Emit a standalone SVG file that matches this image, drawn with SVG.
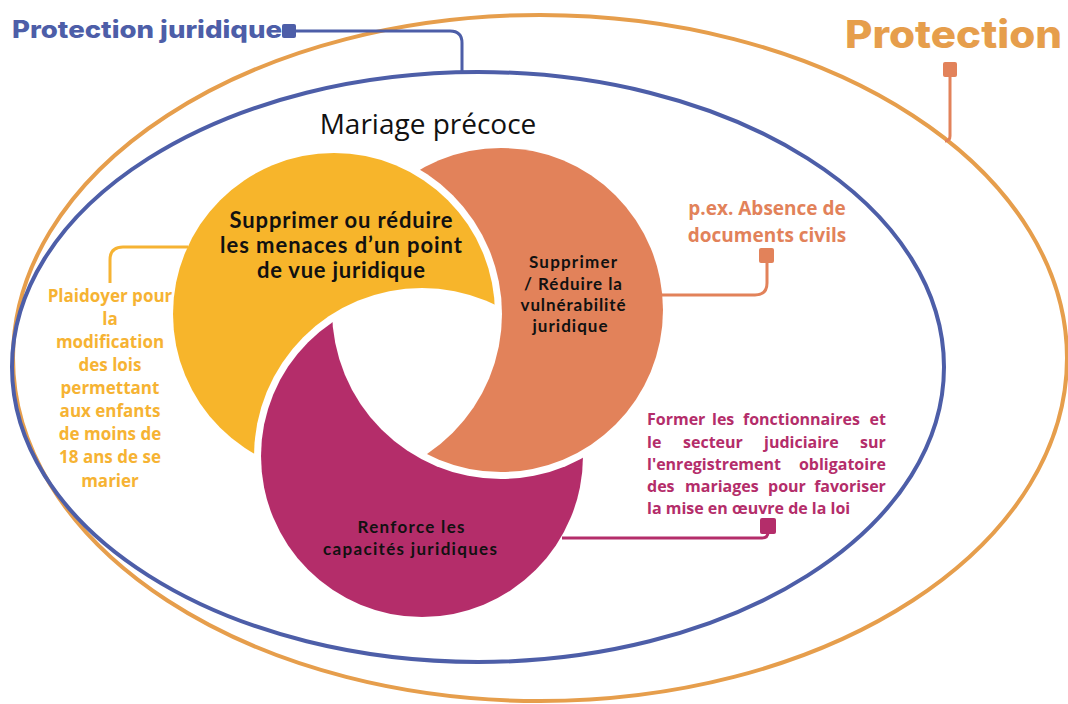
<svg xmlns="http://www.w3.org/2000/svg" width="1068" height="704" viewBox="0 0 1068 704">
<style>
.ring{fill:none;stroke-width:4}
.conn{fill:none;stroke-width:3}
.lab{font-family:Lato,"Noto Sans",sans-serif;font-weight:700;fill:#111;text-anchor:middle}
.side{font-family:"Open Sans","Noto Sans",sans-serif;font-weight:700}
.title{font-family:Inter,"Liberation Sans",sans-serif;font-weight:800}
.end{text-anchor:end}
</style>
<defs>
<mask id="mY" maskUnits="userSpaceOnUse" x="0" y="0" width="1068" height="704"><rect width="1068" height="704" fill="#fff"/><circle cx="422" cy="456" r="168" fill="#000"/></mask>
<mask id="mO" maskUnits="userSpaceOnUse" x="0" y="0" width="1068" height="704"><rect width="1068" height="704" fill="#fff"/><circle cx="334" cy="314" r="168" fill="#000"/></mask>
<mask id="mM" maskUnits="userSpaceOnUse" x="0" y="0" width="1068" height="704"><rect width="1068" height="704" fill="#fff"/><circle cx="501" cy="310" r="169" fill="#000"/></mask>
</defs>
<rect width="1068" height="704" fill="#fff"/>
<g id="protection">
<ellipse class="ring" cx="540" cy="358" rx="527" ry="343" stroke="#E69E4C"/>
<text class="title" x="845" y="48" font-size="38" fill="#E69E4C" textLength="217" lengthAdjust="spacingAndGlyphs">Protection</text>
</g>
<g id="protection-juridique">
<ellipse class="ring" cx="478" cy="367" rx="466" ry="295" stroke="#4D5EA8" stroke-width="4.5"/>
<text class="title" x="12" y="38" font-size="24" fill="#4D5EA8" textLength="270" lengthAdjust="spacingAndGlyphs">Protection juridique</text>
</g>
<g id="mariage-precoce">
<text x="428" y="134" font-family="'Open Sans','Noto Sans',sans-serif" font-size="28" fill="#111" text-anchor="middle">Mariage précoce</text>
</g>
<g id="connectors">
<rect x="282" y="24" width="14" height="14" rx="2" fill="#4D5EA8"/>
<path class="conn" stroke="#4D5EA8" d="M296,31 H450 Q462,31 462,43 V72"/>
<rect x="943" y="62" width="14" height="15" rx="2" fill="#E2825A"/>
<path class="conn" stroke="#E2825A" d="M950,76 V136 Q950,141 945,141"/>
<path class="conn" stroke="#F6B333" d="M188,247 H123 Q110,247 110,260 V283"/>
<rect x="759" y="248" width="15" height="15" rx="2" fill="#E2825A"/>
<path class="conn" stroke="#E2825A" d="M662,295 H755 Q767,295 767,283 V262"/>
<rect x="760" y="518" width="16" height="16" rx="2" fill="#B42D6A"/>
<path class="conn" stroke="#B42D6A" d="M562,538 H762 Q768,538 768,532"/>
</g>
<g id="node-yellow">
<circle cx="334" cy="314" r="161" fill="#F7B52B" mask="url(#mY)"/>
<text class="lab" font-size="22"><tspan x="341" y="228" textLength="223" lengthAdjust="spacing">Supprimer ou réduire</tspan><tspan x="341" y="253" textLength="242" lengthAdjust="spacing">les menaces d’un point</tspan><tspan x="341" y="278" textLength="168" lengthAdjust="spacing">de vue juridique</tspan></text>
</g>
<g id="node-orange">
<circle cx="501" cy="310" r="162" fill="#E2825A" mask="url(#mO)"/>
<text class="lab" font-size="17"><tspan x="573" y="268" textLength="88" lengthAdjust="spacing">Supprimer</tspan><tspan x="573" y="290" textLength="98" lengthAdjust="spacing">/ Réduire la</tspan><tspan x="573" y="311" textLength="105" lengthAdjust="spacing">vulnérabilité</tspan><tspan x="570" y="332" textLength="75" lengthAdjust="spacing">juridique</tspan></text>
</g>
<g id="node-magenta">
<circle cx="422" cy="456" r="161" fill="#B42D6A" mask="url(#mM)"/>
<text class="lab" font-size="17"><tspan x="411" y="533" textLength="107" lengthAdjust="spacing">Renforce les</tspan><tspan x="410" y="555" textLength="174" lengthAdjust="spacing">capacités juridiques</tspan></text>
</g>
<g id="note-plaidoyer">
<text class="side" font-size="17" fill="#F6B333" text-anchor="middle"><tspan x="110" y="302">Plaidoyer pour</tspan><tspan x="110" y="325">la</tspan><tspan x="110" y="348">modification</tspan><tspan x="110" y="371">des lois</tspan><tspan x="110" y="394">permettant</tspan><tspan x="110" y="417">aux enfants</tspan><tspan x="110" y="440">de moins de</tspan><tspan x="110" y="463">18 ans de se</tspan><tspan x="110" y="487">marier</tspan></text>
</g>
<g id="note-documents">
<text class="side" font-size="19" fill="#E2825A" text-anchor="middle"><tspan x="767" y="215">p.ex. Absence de</tspan><tspan x="767" y="242">documents civils</tspan></text>
</g>
<g id="note-former">
<text class="side" font-size="16" fill="#B42D6A">
<tspan x="647" y="425">Former</tspan><tspan x="712" y="425">les</tspan><tspan x="743" y="425">fonctionnaires</tspan><tspan class="end" x="890" y="425">et</tspan>
<tspan x="647" y="448">le</tspan><tspan x="683" y="448">secteur</tspan><tspan x="764" y="448">judiciaire</tspan><tspan class="end" x="890" y="448">sur</tspan>
<tspan x="647" y="470">l'enregistrement</tspan><tspan class="end" x="890" y="470">obligatoire</tspan>
<tspan x="647" y="492">des</tspan><tspan x="685" y="492">mariages</tspan><tspan x="768" y="492">pour</tspan><tspan class="end" x="890" y="492">favoriser</tspan>
<tspan x="647" y="514">la mise en œuvre de la loi</tspan>
</text>
</g>
</svg>
